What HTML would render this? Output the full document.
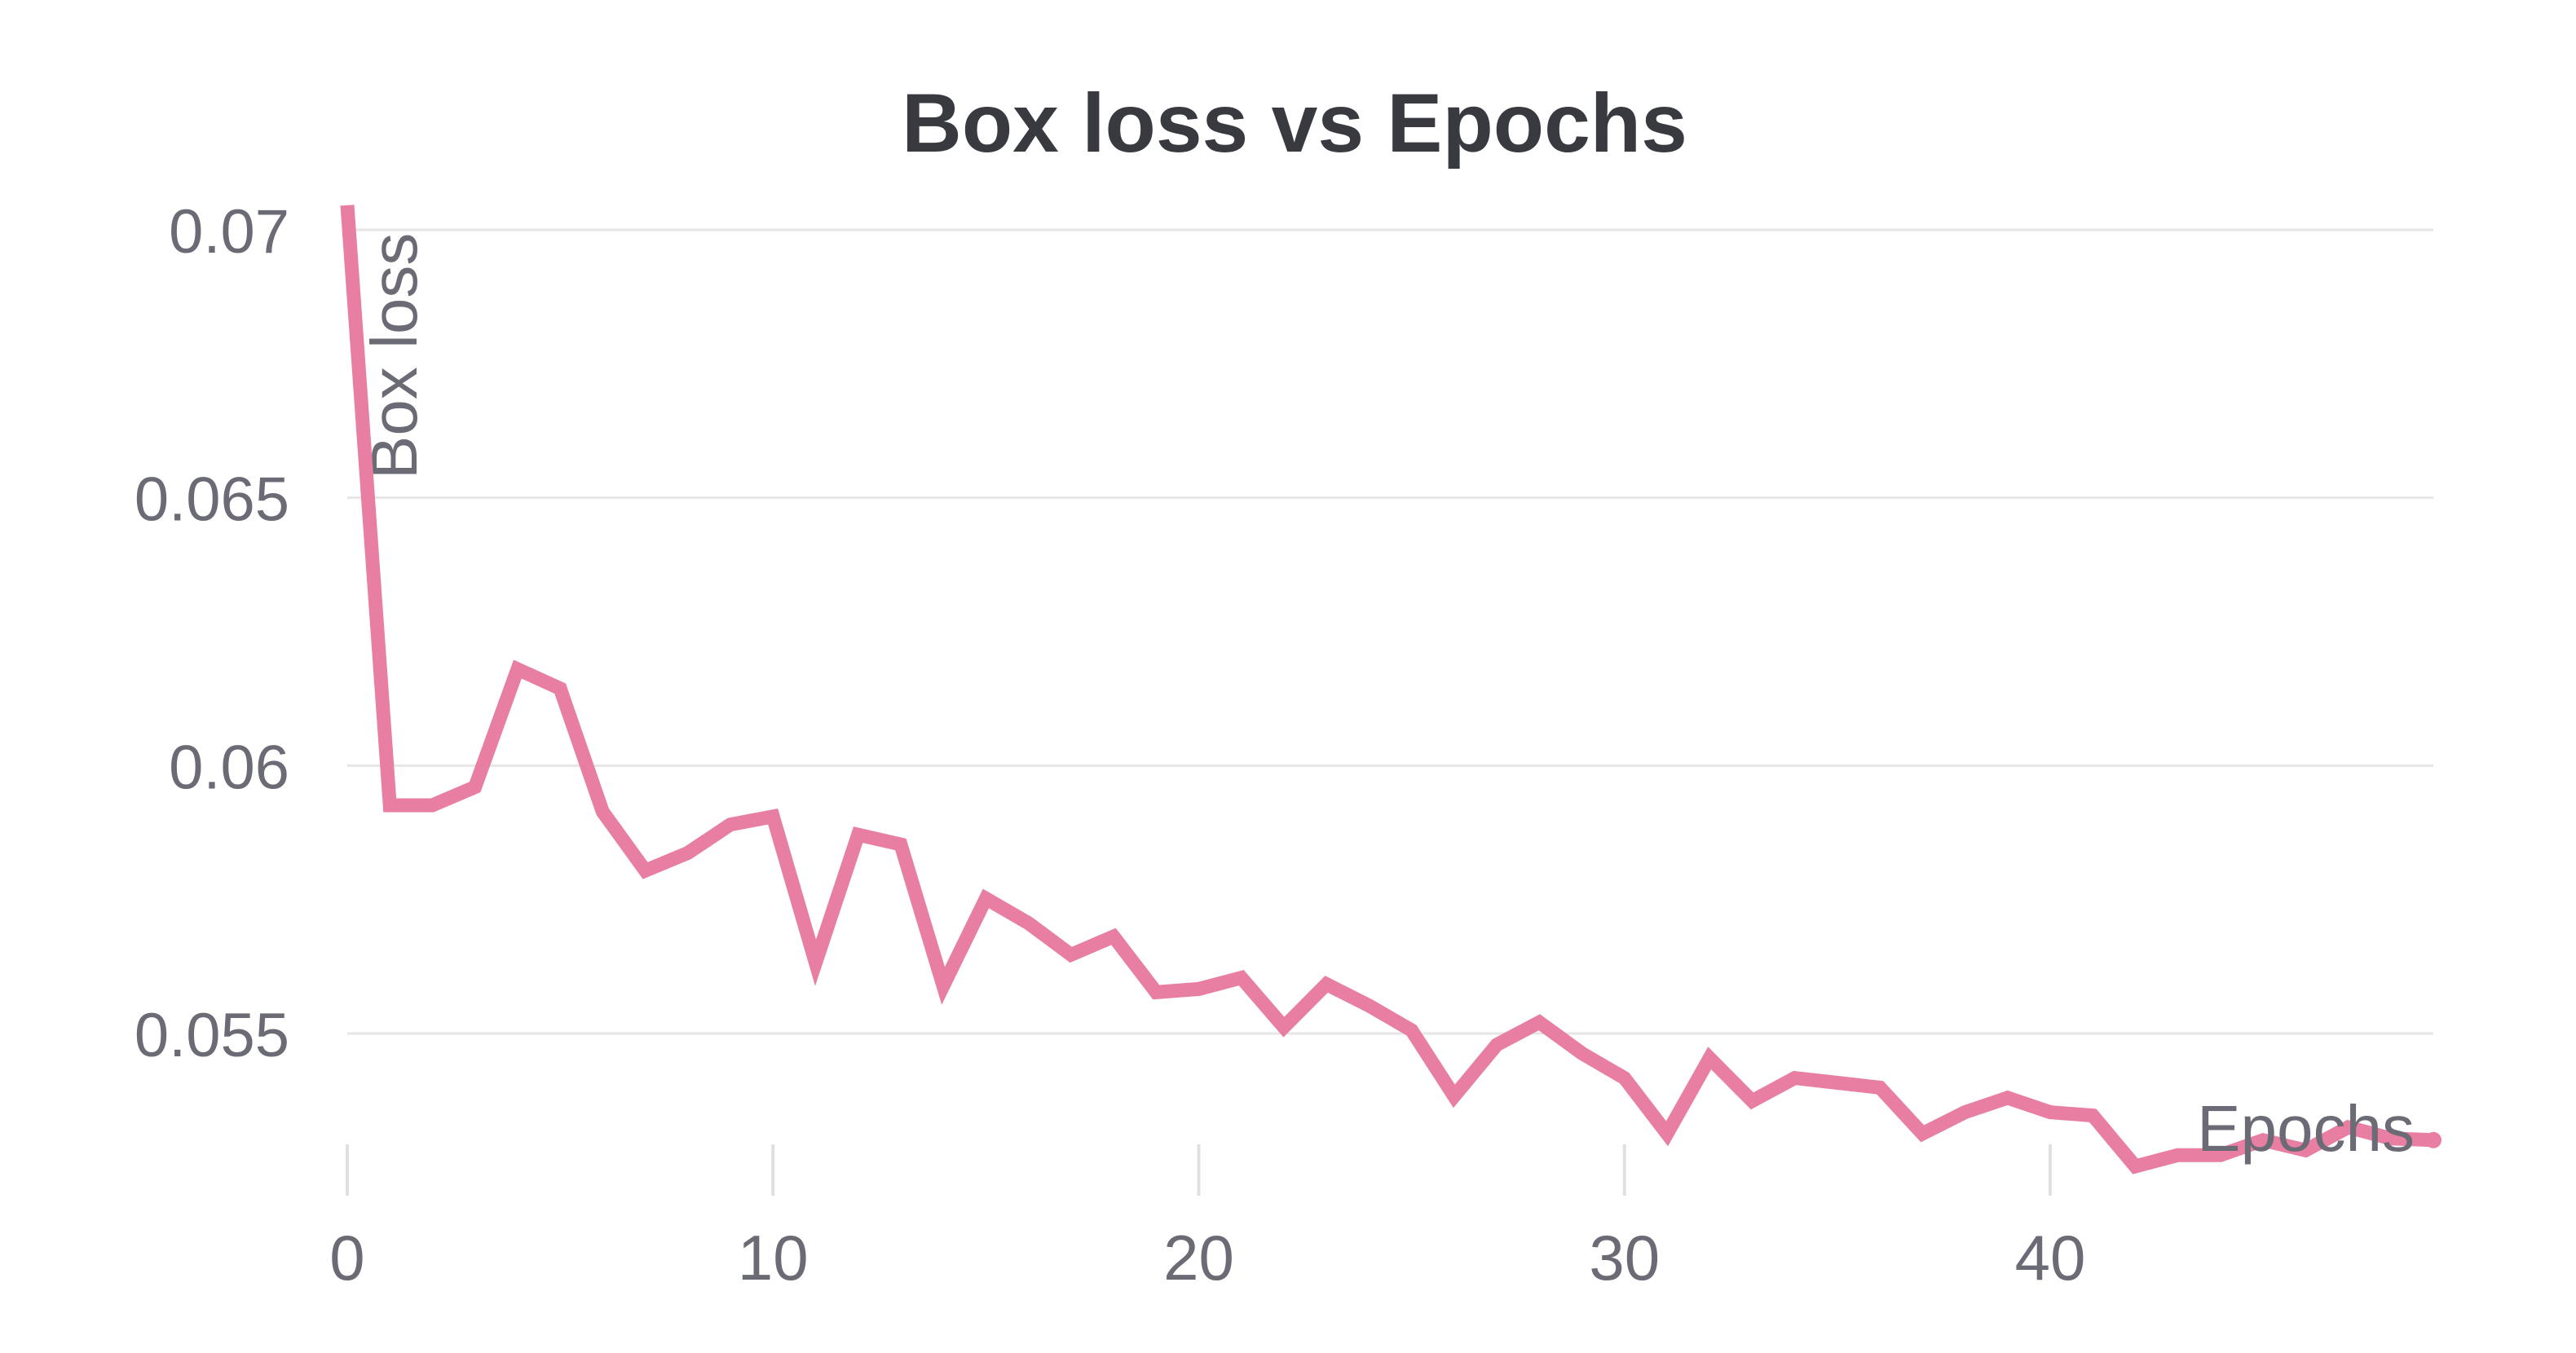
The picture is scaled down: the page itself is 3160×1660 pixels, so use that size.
<!DOCTYPE html>
<html><head><meta charset="utf-8"><style>
html,body{margin:0;padding:0;background:#fff;}
svg{display:block;font-family:"Liberation Sans",sans-serif;}
</style></head><body>
<svg id="chart" width="3160" height="1660" viewBox="0 0 3160 1660">
<text x="1588" y="186" text-anchor="middle" font-size="102" font-weight="bold" fill="#383a3f">Box loss vs Epochs</text>
<g id="grid"></g><g id="xaxis"></g><g id="yaxis"></g>
<text transform="translate(511,588) rotate(-90)" font-size="80" fill="#6b6b76">Box loss</text>
<g id="series"></g>
<text x="2962" y="1412" text-anchor="end" font-size="80" fill="#6b6b76">Epochs</text>
</svg>
<script>
const epochs = [0,1,2,3,4,5,6,7,8,9,10,11,12,13,14,15,16,17,18,19,20,21,22,23,24,25,26,27,28,29,30,31,32,33,34,35,36,37,38,39,40,41,42,43,44,45,46,47,48,49];
const boxLoss = [0.07046,0.05926,0.05926,0.0596,0.0618,0.06144,0.05914,0.05804,0.05837,0.0589,0.05905,0.05632,0.05871,0.05853,0.05589,0.05752,0.05706,0.05647,0.05681,0.05577,0.05583,0.05604,0.05512,0.05592,0.05552,0.05506,0.05383,0.05479,0.05521,0.05463,0.05417,0.05313,0.05454,0.05374,0.05417,0.05408,0.05399,0.05313,0.05353,0.0538,0.05353,0.05347,0.05252,0.05273,0.05273,0.05301,0.05282,0.05325,0.05304,0.05301];
const yTicks = [0.07,0.065,0.06,0.055];
const yTickLabels = ["0.07","0.065","0.06","0.055"];
const xTicks = [0,10,20,30,40];
const xTickLabels = ["0","10","20","30","40"];

const NS = "http://www.w3.org/2000/svg";
function xs(v){ return 426 + v*(2985-426)/49; }
function ys(v){ return 282 + (0.07 - v)*(1268-282)/0.015; }
function mk(tag, attrs, parent){ const e=document.createElementNS(NS,tag); for(const k in attrs) e.setAttribute(k,attrs[k]); parent.appendChild(e); return e; }
const grid=document.getElementById('grid'), xa=document.getElementById('xaxis'), ya=document.getElementById('yaxis'), ser=document.getElementById('series');
yTicks.forEach((t,i)=>{
  const l=mk('line',{x1:426,x2:2985,y1:ys(t),y2:ys(t),stroke:'#e6e6e6','stroke-width':3},grid);
  
  
  const tx=mk('text',{x:355,y:ys(t)+28,'text-anchor':'end','font-size':76,fill:'#6b6b76'},ya);
  tx.textContent=yTickLabels[i];
  
  
});
xTicks.forEach((t,i)=>{
  const l=mk('line',{x1:xs(t),x2:xs(t),y1:1404,y2:1467,stroke:'#e0e0e0','stroke-width':4},xa);
  
  
  const tx=mk('text',{x:xs(t),y:1570,'text-anchor':'middle','font-size':78,fill:'#6b6b76'},xa);
  tx.textContent=xTickLabels[i];
  
  
});
const pts=epochs.map((e,i)=>xs(e).toFixed(1)+','+ys(boxLoss[i]).toFixed(1)).join(' ');
const pl=mk('polyline',{points:pts,fill:'none',stroke:'#e87ea1','stroke-width':17,'stroke-linejoin':'miter'},ser);


const last=epochs.length-1;
const dot=mk('circle',{cx:xs(epochs[last]),cy:ys(boxLoss[last]),r:10,fill:'#e87ea1'},ser);


</script>
</body></html>
